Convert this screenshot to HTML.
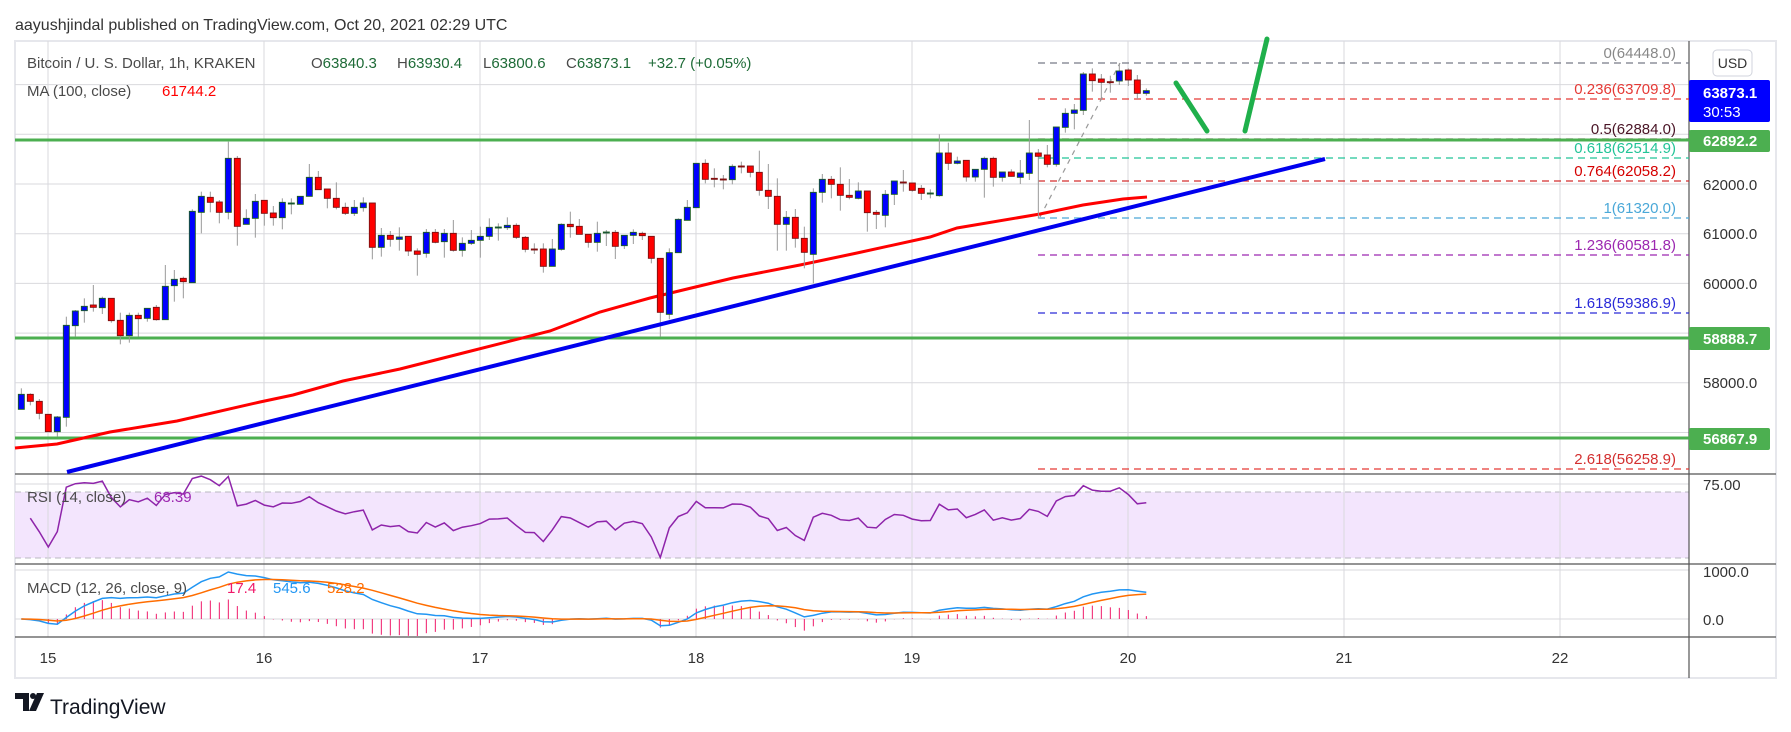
<!DOCTYPE html>
<html><head><meta charset="utf-8">
<style>
html,body{margin:0;padding:0;background:#fff;}
svg{display:block;font-family:"Liberation Sans",sans-serif;}
</style></head><body>
<svg id="s" width="1791" height="732" viewBox="0 0 1791 732" xmlns="http://www.w3.org/2000/svg">
<rect width="1791" height="732" fill="#fff"/>
<text x="15" y="30" font-size="16" fill="#333">aayushjindal published on TradingView.com, Oct 20, 2021 02:29 UTC</text>
<rect x="15" y="41" width="1761" height="637" fill="#fff" stroke="#e6e7ec" stroke-width="2"/>
<!-- RSI band -->
<rect x="15" y="492" width="1674" height="66" fill="#f3e5fd"/>
<line x1="15" y1="492" x2="1689" y2="492" stroke="#b8b8c0" stroke-dasharray="6,4"/>
<line x1="15" y1="558" x2="1689" y2="558" stroke="#b8b8c0" stroke-dasharray="6,4"/>
<g id="grid" stroke="#d9d9dd" stroke-width="1"></g>
<!-- separators -->
<g stroke="#555" stroke-width="1.2">
<line x1="15" y1="474" x2="1776" y2="474"/>
<line x1="15" y1="564" x2="1776" y2="564"/>
<line x1="15" y1="637" x2="1776" y2="637"/>
<line x1="1689" y1="41" x2="1689" y2="678"/>
</g>
<!-- fib lines -->
<g stroke-dasharray="7,5" stroke-width="1.3">
<line x1="1038" y1="63" x2="1689" y2="63" stroke="#787b86"/>
<line x1="1038" y1="99" x2="1689" y2="99" stroke="#e53935"/>
<line x1="1038" y1="139" x2="1689" y2="139" stroke="#5d1a2e"/>
<line x1="1038" y1="158" x2="1689" y2="158" stroke="#22c497"/>
<line x1="1038" y1="181" x2="1689" y2="181" stroke="#d32f2f"/>
<line x1="1038" y1="218" x2="1689" y2="218" stroke="#4aa8d8"/>
<line x1="1038" y1="255" x2="1689" y2="255" stroke="#9c27b0"/>
<line x1="1038" y1="313" x2="1689" y2="313" stroke="#2a2ad8"/>
<line x1="1038" y1="469" x2="1689" y2="469" stroke="#e53935"/>
</g>
<line x1="1040" y1="217" x2="1120" y2="63" stroke="#999" stroke-width="1.2" stroke-dasharray="5,5"/>
<g font-size="15" text-anchor="end">
<text x="1676" y="58" fill="#888">0(64448.0)</text>
<text x="1676" y="94" fill="#e53935">0.236(63709.8)</text>
<text x="1676" y="134" fill="#4a1526">0.5(62884.0)</text>
<text x="1676" y="153" fill="#22c497">0.618(62514.9)</text>
<text x="1676" y="176" fill="#d50000">0.764(62058.2)</text>
<text x="1676" y="213" fill="#4aa8d8">1(61320.0)</text>
<text x="1676" y="250" fill="#9c27b0">1.236(60581.8)</text>
<text x="1676" y="308" fill="#2a2ad8">1.618(59386.9)</text>
<text x="1676" y="464" fill="#d32f2f">2.618(56258.9)</text>
</g>
<!-- green horizontal lines -->
<g stroke="#4caf50" stroke-width="3">
<line x1="15" y1="140" x2="1689" y2="140"/>
<line x1="15" y1="338" x2="1689" y2="338"/>
<line x1="15" y1="438" x2="1689" y2="438"/>
</g>
<!-- MA -->
<polyline fill="none" stroke="#ff0000" stroke-width="3" points="15,448 57,444 110,432 177,421 260,402 293,395 343,381 400,369 467,352 550,331 600,312 650,298 683,290 733,278 800,265 857,253 930,237 957,228 1040,214 1083,205 1123,199 1147,197"/>
<g id="cand"></g>
<!-- trend line -->
<line x1="67" y1="472" x2="1325" y2="159" stroke="#0000ee" stroke-width="4"/>
<!-- arrows -->
<g stroke="#1fb04b" stroke-width="5" stroke-linecap="round">
<line x1="1176" y1="83" x2="1207" y2="131"/>
<line x1="1245" y1="131" x2="1267" y2="39"/>
</g>
<g id="ind" fill="none"></g>
<!-- legends -->
<g font-size="15">
<text x="27" y="68" fill="#4a4a4a">Bitcoin / U. S. Dollar, 1h, KRAKEN</text>
<text x="311" y="68" fill="#1e6b37"><tspan fill="#4a4a4a">O</tspan>63840.3</text>
<text x="397" y="68" fill="#1e6b37"><tspan fill="#4a4a4a">H</tspan>63930.4</text>
<text x="483" y="68" fill="#1e6b37"><tspan fill="#4a4a4a">L</tspan>63800.6</text>
<text x="566" y="68" fill="#1e6b37"><tspan fill="#4a4a4a">C</tspan>63873.1</text>
<text x="648" y="68" fill="#1e6b37">+32.7 (+0.05%)</text>
<text x="27" y="96" fill="#4a4a4a">MA (100, close)</text>
<text x="162" y="96" fill="#ff0000">61744.2</text>
<text x="27" y="502" fill="#4a4a4a">RSI (14, close)</text>
<text x="154" y="502" fill="#9c27b0">63.39</text>
<text x="27" y="593" fill="#4a4a4a">MACD (12, 26, close, 9)</text>
<text x="227" y="593" fill="#f0196a">17.4</text>
<text x="273" y="593" fill="#2196f3">545.6</text>
<text x="327" y="593" fill="#ff6d00">528.2</text>
</g>
<!-- axis labels -->
<g font-size="15" fill="#333">
<text x="1703" y="190">62000.0</text>
<text x="1703" y="239">61000.0</text>
<text x="1703" y="289">60000.0</text>
<text x="1703" y="388">58000.0</text>
<text x="1703" y="490">75.00</text>
<text x="1703" y="577">1000.0</text>
<text x="1703" y="625">0.0</text>
<g text-anchor="middle">
<text x="48" y="663">15</text><text x="264" y="663">16</text><text x="480" y="663">17</text>
<text x="696" y="663">18</text><text x="912" y="663">19</text><text x="1128" y="663">20</text>
<text x="1344" y="663">21</text><text x="1560" y="663">22</text>
</g>
</g>
<rect x="1713" y="50" width="39" height="26" rx="4" fill="#fff" stroke="#d0d3dc"/>
<text x="1732.5" y="68" font-size="14" fill="#333" text-anchor="middle">USD</text>
<rect x="1689" y="80" width="81" height="42" rx="2" fill="#0000ff"/>
<text x="1703" y="98" font-size="15" font-weight="bold" fill="#fff">63873.1</text>
<text x="1703" y="117" font-size="15" fill="#fff">30:53</text>
<g font-size="15" font-weight="bold" fill="#fff">
<rect x="1689" y="130" width="81" height="22" rx="2" fill="#4caf50"/><text x="1703" y="146">62892.2</text>
<rect x="1689" y="327" width="81" height="23" rx="2" fill="#4caf50"/><text x="1703" y="344">58888.7</text>
<rect x="1689" y="428" width="81" height="22" rx="2" fill="#4caf50"/><text x="1703" y="444">56867.9</text>
</g>
<!-- logo -->
<path d="M15 693 h14 v18 h-6 v-12 h-8z" fill="#131722"/>
<circle cx="33" cy="696" r="3" fill="#131722"/>
<path d="M37 693 h7 l-8 18 h-7z" fill="#131722"/>
<text x="50" y="714" font-size="21" fill="#131722">TradingView</text>
</svg>
<script>
(function(){
var NS="http://www.w3.org/2000/svg";
function el(p,t,a){var e=document.createElementNS(NS,t);for(var k in a)e.setAttribute(k,a[k]);p.appendChild(e);return e;}
var grid=document.getElementById('grid');
[48,264,480,696,912,1128,1344,1560].forEach(function(x){el(grid,'line',{x1:x,y1:41,x2:x,y2:637});});
for(var p=64000;p>=57000;p-=1000){var y=184-(p-62000)*0.0497;el(grid,'line',{x1:15,y1:y,x2:1689,y2:y});}
el(grid,'line',{x1:15,y1:484,x2:1689,y2:484});
el(grid,'line',{x1:15,y1:570,x2:1689,y2:570});el(grid,'line',{x1:15,y1:619,x2:1689,y2:619});
var blocks=[
[10,130,[[34,'B',793,838,775,838],[61,'R',793,814,790,826],[88,'R',814,850,807,868],[115,'R',853,905,853,905],[142,'B',861,905,858,920],[169,'B',586,862,560,890],[196,'B',543,587,540,620],[223,'B',529,542,505,578],[250,'R',525,532,465,545],[277,'B',505,533,500,552],[304,'R',505,572,505,578],[331,'R',571,617,548,643],[358,'B',556,617,548,638],[385,'R',556,566,548,620],[412,'B',535,565,535,575],[439,'R',532,569,525,572],[466,'B',469,569,405,569],[493,'B',448,467,420,515],[520,'R',445,455,440,505],[547,'B',244,458,238,458],[574,'B',199,247,185,310],[601,'R',202,217,185,247],[628,'R',216,247,210,280],[655,'B',85,247,35,268],[682,'R',85,289,78,347],[709,'B',265,283,238,283],[736,'B',214,265,192,323],[763,'R',211,250,211,287],[790,'R',249,263,228,287],[817,'B',217,263,205,298],[844,'B',219,221,205,253],[871,'B',199,223,199,223],[898,'B',142,199,102,199],[925,'R',142,179,123,179],[952,'R',177,205,177,235],[979,'R',205,232,157,238],[1006,'R',232,250,218,255],[1033,'B',232,250,210,258],[1060,'B',219,233,202,245],[1087,'R',219,352,219,388],[1114,'B',316,352,294,380],[1141,'R',316,328,303,350],[1168,'B',321,328,292,362],[1195,'R',319,363,319,378]]],
[400,130,[[52,'R',363,373,355,437],[79,'B',307,370,297,383],[106,'R',307,337,297,340],[133,'B',310,335,297,383],[160,'R',310,361,270,365],[187,'B',340,361,322,380],[214,'B',331,340,300,345],[241,'B',319,331,290,383],[268,'B',292,319,265,330],[295,'B',291,293,280,332],[322,'B',286,293,262,300],[349,'R',286,322,280,327],[376,'R',322,358,318,367],[403,'R',357,359,340,372],[430,'R',357,409,340,428],[457,'B',357,409,327,409],[484,'B',283,358,280,362],[511,'R',283,290,245,323],[538,'R',289,313,267,313],[565,'R',313,337,313,353],[592,'B',310,337,275,365],[619,'B',306,308,300,348],[646,'R',307,349,300,387],[673,'B',316,347,316,357],[700,'B',307,316,298,342],[727,'R',310,317,305,330],[754,'R',319,385,319,400],[781,'R',385,547,385,620],[808,'B',368,553,355,568],[835,'B',268,368,265,368],[862,'B',232,271,210,271],[889,'B',100,233,100,233],[916,'R',100,148,88,160],[943,'R',145,148,115,172],[970,'R',147,149,135,178],[997,'B',109,149,103,163],[1024,'R',108,110,95,130],[1051,'R',108,127,108,142],[1078,'R',127,181,62,197],[1105,'R',181,199,102,237],[1132,'R',199,283,145,362],[1159,'B',262,283,243,362],[1186,'R',262,325,237,353]]],
[790,110,[[43,'R',385,427,350,475],[70,'B',247,433,235,520],[97,'B',208,247,192,278],[124,'R',208,223,198,265],[151,'R',223,256,172,302],[178,'R',256,262,207,268],[205,'B',243,265,217,268],[232,'R',243,308,243,365],[259,'R',307,313,300,357],[286,'B',253,316,240,352],[313,'B',213,253,213,285],[340,'R',216,218,180,245],[367,'R',219,241,219,245],[394,'R',235,250,225,270],[421,'B',249,251,238,265],[448,'B',129,257,73,260],[475,'R',129,160,98,180],[502,'B',153,160,140,163],[529,'R',151,201,151,215],[556,'B',178,201,178,215],[583,'B',145,178,140,263],[610,'R',145,202,140,230],[637,'B',186,202,186,215],[664,'R',186,199,178,200],[691,'B',189,202,150,222],[718,'B',129,190,30,210],[745,'R',129,139,117,325],[772,'R',135,163,105,172],[799,'B',51,163,51,170]]],
[1000,0,[[196,'B',340,382,325,398],[223,'B',330,340,312,388],[250,'B',222,331,216,345],[277,'R',222,242,205,275],[304,'R',237,247,222,300],[331,'R',245,247,227,278],[358,'B',213,243,190,255],[385,'R',210,240,205,258],[412,'R',240,280,225,297],[439,'B',272,280,265,287]]]
];
var g=document.getElementById('cand');var closes=[],xs=[];
blocks.forEach(function(b){var x0=b[0],y0=b[1];b[2].forEach(function(c){
 var x=x0+c[0]/3,bt=y0+c[2]/3,bb=y0+c[3]/3,wt=y0+c[4]/3,wb=y0+c[5]/3;
 el(g,'line',{x1:x,y1:wt,x2:x,y2:wb,stroke:'#9a9a9a','stroke-width':1});
 var up=c[1]=='B';
 el(g,'rect',{x:x-3,y:bt,width:6,height:Math.max(1,bb-bt),fill:up?'#0000ff':'#ff0000',stroke:up?'#1b5e20':'#7a1010','stroke-width':0.9});
 var cy=up?bt:bb;closes.push(62000-(cy-184)/0.0497);xs.push(x);
});});
var ind=document.getElementById('ind');
// RSI
var ag=60,al=40,rp=[];
for(var i=1;i<closes.length;i++){var d=closes[i]-closes[i-1];ag=(ag*13+Math.max(d,0))/14;al=(al*13+Math.max(-d,0))/14;var r=100-100/(1+ag/al);rp.push(xs[i].toFixed(1)+','+(492+(70-r)*66/40).toFixed(1));}
el(ind,'polyline',{points:rp.join(' '),stroke:'#8e24aa','stroke-width':1.5});
// MACD
var e12=closes[0],e26=closes[0],sig=0,mp=[],sp=[];var k12=2/13,k26=2/27,k9=0.2;
var hg=document.createElementNS(NS,'g');ind.appendChild(hg);
for(var i=0;i<closes.length;i++){e12=closes[i]*k12+e12*(1-k12);e26=closes[i]*k26+e26*(1-k26);var m=e12-e26;sig=m*k9+sig*(1-k9);
 var ym=619-m*0.049,ys=619-sig*0.049,h=(m-sig)*0.049*1.6;
 mp.push(xs[i].toFixed(1)+','+ym.toFixed(1));sp.push(xs[i].toFixed(1)+','+ys.toFixed(1));
 el(hg,'line',{x1:xs[i],y1:619,x2:xs[i],y2:619-h,stroke:'#f0196a','stroke-width':1});}
el(ind,'polyline',{points:mp.join(' '),stroke:'#2196f3','stroke-width':1.5});
el(ind,'polyline',{points:sp.join(' '),stroke:'#ff6d00','stroke-width':1.5});
})();
</script>
</body></html>
